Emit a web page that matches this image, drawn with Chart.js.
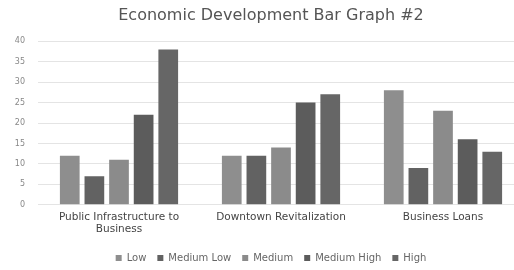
<!DOCTYPE html>
<html>
<head>
<meta charset="utf-8">
<script src="https://cdn.jsdelivr.net/npm/chart.js@4/dist/chart.umd.min.js"></script>
<style>
    html, body { margin: 0; padding: 0; background: #fff; overflow: hidden; }
    #wrap { width: 542px; height: 273px; }
</style>
</head>
<body>
<div id="wrap"><canvas id="chart"></canvas></div>
<script>
// data
const categories = [["Public Infrastructure to", "Business"], "Downtown Revitalization", "Business Loans"];
const seriesNames = ["Low", "Medium Low", "Medium", "Medium High", "High"];
const low = [12, 12, 28];
const mediumLow = [7, 12, 9];
const medium = [11, 14, 23];
const mediumHigh = [22, 25, 16];
const high = [38, 27, 13];
const yTicks = [0, 5, 10, 15, 20, 25, 30, 35, 40];

const colors = ["#8e8e8e", "#626262", "#8b8b8b", "#5c5c5c", "#666666"];
const values = [low, mediumLow, medium, mediumHigh, high];

// y labels hang out left of the narrowed axis box, so widen its clip area
const unclipY = {
    id: "unclipY",
    afterLayout: chart => { chart.scales.y.left = 0; }
};

const ctx = document.getElementById("chart").getContext("2d");
new Chart(ctx, {
    type: "bar",
    data: {
        labels: categories,
        datasets: seriesNames.map((name, i) => ({
            label: name,
            data: values[i],
            backgroundColor: colors[i],
            borderWidth: 0
        }))
    },
    plugins: [unclipY],
    options: {
        responsive: true,
        maintainAspectRatio: false,
        animation: false,
        layout: { padding: { left: 18, right: 18, top: 2, bottom: 0 } },
        datasets: { bar: { categoryPercentage: 0.76, barPercentage: 0.8 } },
        plugins: {
            title: {
                display: true,
                text: "Economic Development Bar Graph #2",
                color: "#555",
                font: { family: "DejaVu Sans", size: 16, weight: "normal" },
                padding: { top: 4, bottom: 16 }
            },
            legend: {
                position: "bottom",
                labels: {
                    color: "#666",
                    font: { family: "DejaVu Sans", size: 10 },
                    usePointStyle: true,
                    pointStyle: "rect",
                    boxWidth: 6,
                    boxHeight: 6,
                    padding: 11
                }
            },
            tooltip: { enabled: false }
        },
        scales: {
            x: {
                grid: { display: false, drawTicks: false },
                border: { display: false },
                ticks: {
                    color: "#444",
                    font: { family: "DejaVu Sans", size: 10.5 },
                    maxRotation: 0,
                    padding: 6
                }
            },
            y: {
                min: 0,
                max: 40,
                afterBuildTicks: axis => { axis.ticks = yTicks.map(v => ({ value: v })); },
                // narrow axis box so the plot starts where the reference does
                afterFit: axis => { axis.width = 20; },
                grid: { color: "#e4e4e4", drawTicks: false },
                border: { display: false },
                ticks: {
                    color: "#888",
                    font: { family: "DejaVu Sans", size: 8 },
                    padding: 13
                }
            }
        }
    }
});
</script>
</body>
</html>
